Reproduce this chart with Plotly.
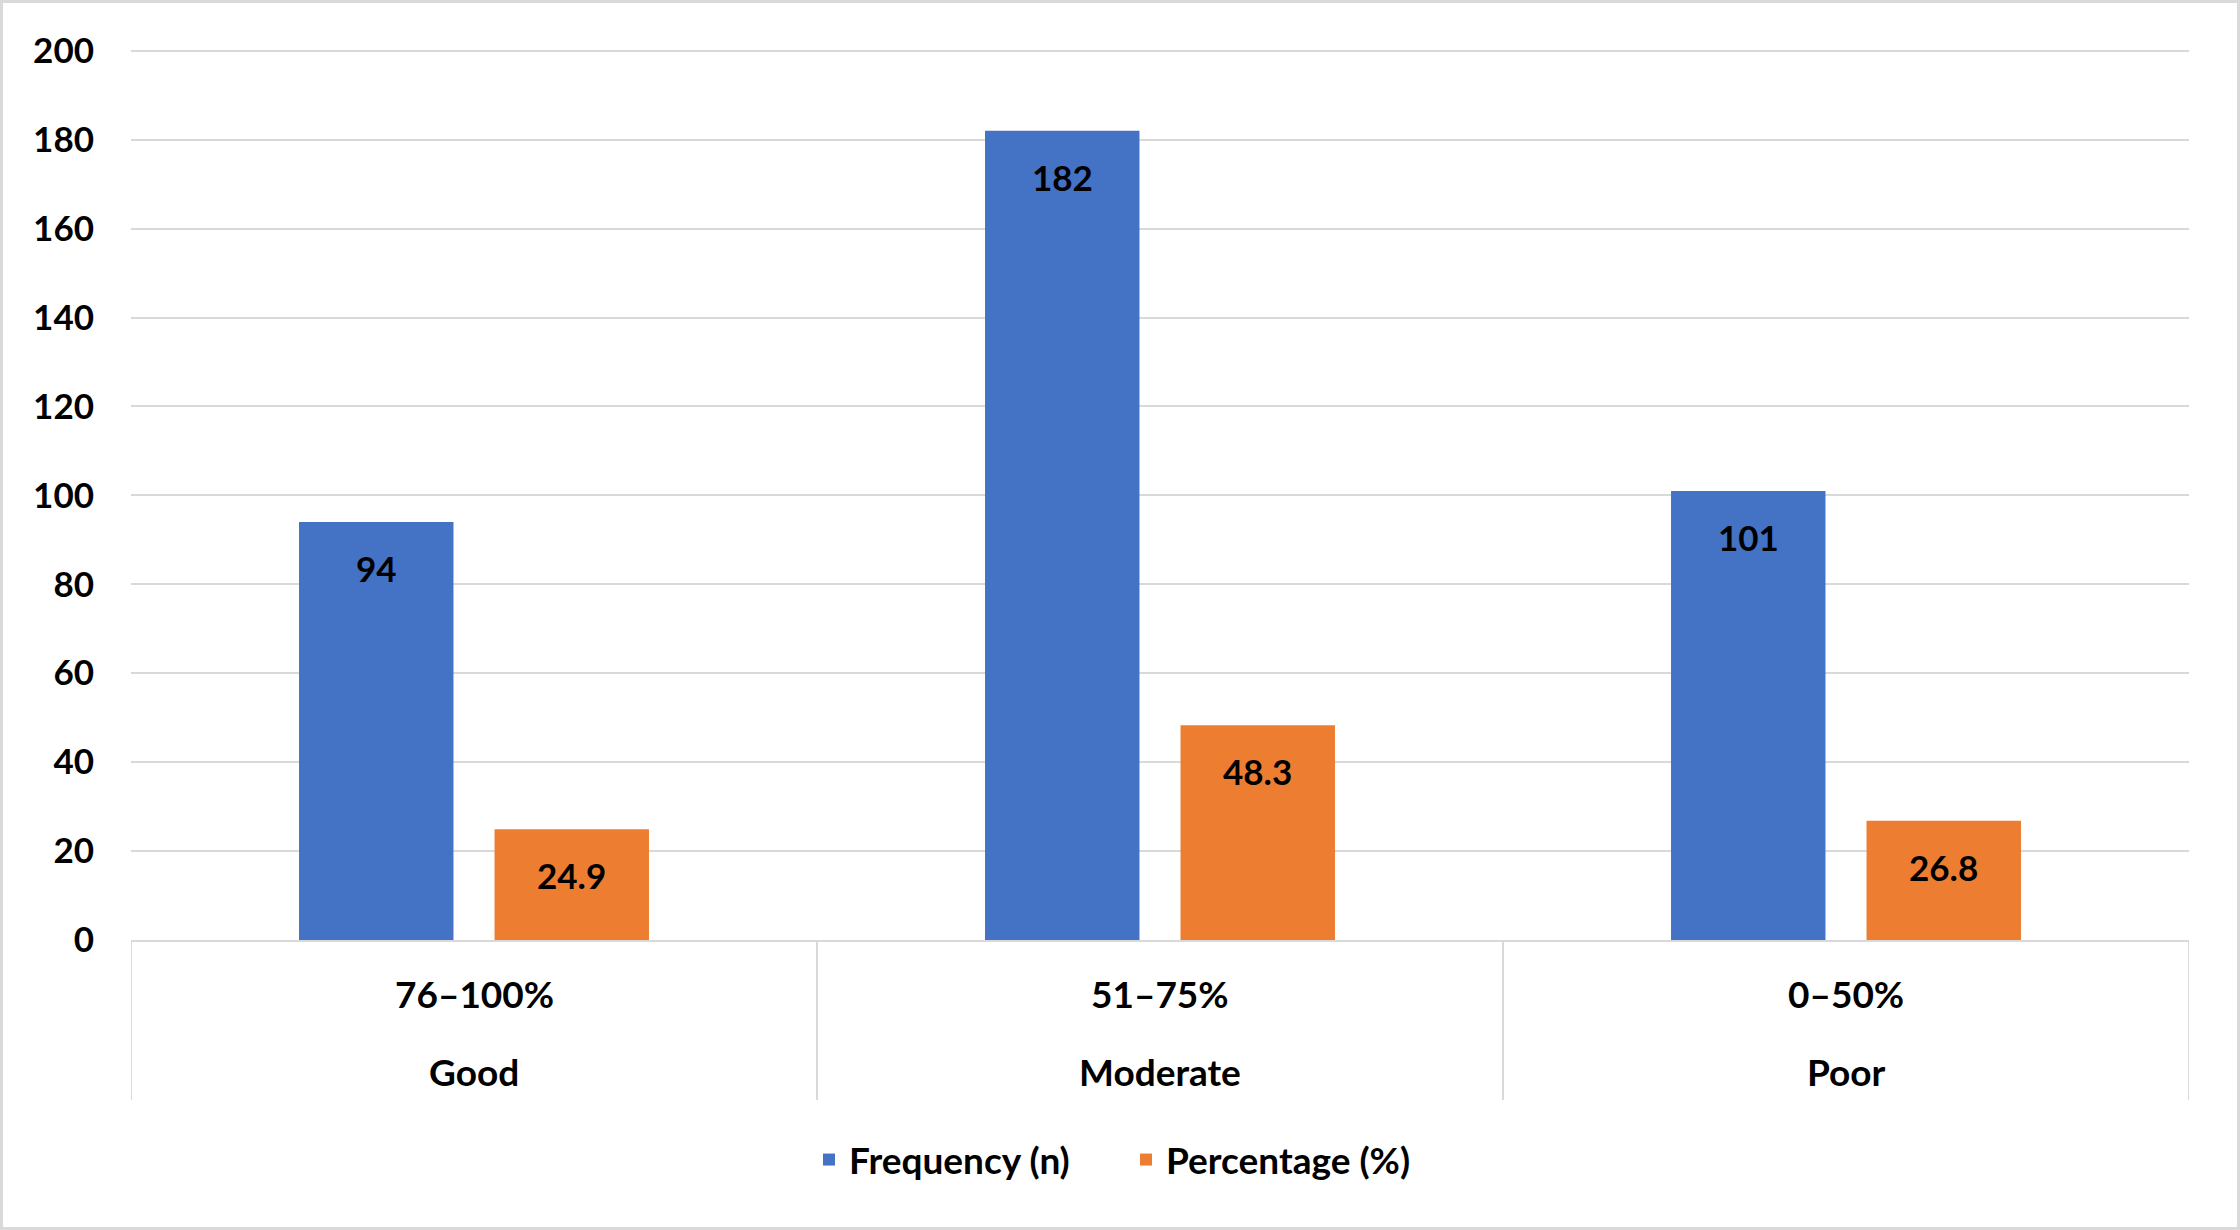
import plotly.graph_objects as go

# ---- data ----
levels = ["Good", "Moderate", "Poor"]
ranges = ["76–100%", "51–75%", "0–50%"]
frequency = [94, 182, 101]
percentage = [24.9, 48.3, 26.8]
y_ticks = list(range(0, 201, 20))

W, H = 2240, 1230
L, R, T, B = 131, 51, 49, 290
pw, ph = W - L - R, H - T - B

FONT = "Lato, 'Open Sans', sans-serif"
FS = 35
FS_TXT = 37
GRID = "#d9d9d9"
BARGAP = 0.43
GROUPGAP = 0.21

fig = go.Figure()
fig.add_bar(x=levels, y=frequency, name="Frequency (n)",
            marker=dict(color="#4472C4", line=dict(width=0)))
fig.add_bar(x=levels, y=percentage, name="Percentage (%)",
            marker=dict(color="#ED7D31", line=dict(width=0)))

cat_px = pw / len(levels)
slot_shift = cat_px * (1 - BARGAP) / 4

annotations = []
for lv, f, p in zip(levels, frequency, percentage):
    for val, sh in ((f, -slot_shift), (p, slot_shift)):
        annotations.append(dict(x=lv, xref="x", y=val, yref="y", xshift=sh, yshift=-46,
                                text=f"<b>{val}</b>", showarrow=False, yanchor="middle",
                                font=dict(size=FS, color="black", family=FONT)))
for lv, rg in zip(levels, ranges):
    annotations.append(dict(x=lv, xref="x", y=-53 / ph, yref="paper", text=f"<b>{rg}</b>",
                            showarrow=False, yanchor="middle",
                            font=dict(size=FS_TXT, color="black", family=FONT)))
    annotations.append(dict(x=lv, xref="x", y=-131 / ph, yref="paper", text=f"<b>{lv}</b>",
                            showarrow=False, yanchor="middle",
                            font=dict(size=FS_TXT, color="black", family=FONT)))

shapes = []
for i in range(len(levels) + 1):
    shapes.append(dict(type="line", xref="x", yref="paper", x0=i - 0.5, x1=i - 0.5,
                       y0=0, y1=-160 / ph, line=dict(color=GRID, width=2)))
shapes.append(dict(type="rect", xref="paper", yref="paper",
                   x0=-(L - 1.5) / pw, x1=(W - L - 1.5) / pw,
                   y0=-(B - 1.5) / ph, y1=(ph + T - 1.5) / ph,
                   line=dict(color=GRID, width=3)))

fig.update_layout(
    width=W, height=H,
    margin=dict(l=L, r=R, t=T, b=B),
    plot_bgcolor="white", paper_bgcolor="white",
    font=dict(family=FONT, size=FS, color="black"),
    barmode="group", bargap=BARGAP, bargroupgap=GROUPGAP,
    showlegend=True,
    legend=dict(orientation="h", x=(1126 - L) / pw, xanchor="center",
                y=-220 / ph, yanchor="middle",
                font=dict(size=FS_TXT, family=FONT, color="black", weight="bold"),
                itemwidth=30, entrywidth=272),
    annotations=annotations,
    shapes=shapes,
)
fig.update_xaxes(range=[-0.5, 2.5], showticklabels=False, showgrid=False,
                 showline=True, linecolor=GRID, linewidth=2, ticks="", zeroline=False)
fig.update_yaxes(range=[0, 200.4], tickvals=y_ticks, showgrid=True, gridcolor=GRID, gridwidth=2,
                 zeroline=False, showline=False, ticks="",
                 tickfont=dict(size=FS, family=FONT, color="black", weight="bold"),
                 ticklabelstandoff=36)

fig.write_html("out.html", config={"displayModeBar": False},
               post_script="document.body.style.margin='0';document.body.style.overflow='hidden';")
